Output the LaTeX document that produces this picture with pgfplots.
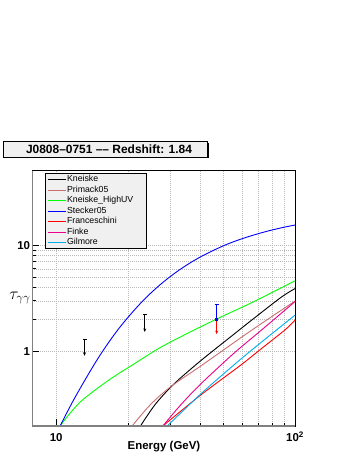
\documentclass[border=0pt]{standalone}
\usepackage{pgfplots}
\pgfplotsset{compat=1.18}
\usepackage{fontspec}
\setmainfont{Liberation Sans}
\usetikzlibrary{arrows.meta}
\definecolor{primack}{RGB}{204,110,110}
\definecolor{lgray}{RGB}{240,240,240}
\begin{document}
\begin{tikzpicture}
\path[use as bounding box] (0bp,0bp) rectangle (354bp,458bp);
% title box with shadow
\fill[black] (4.6bp,299.6bp) rectangle (208.6bp,315.4bp);
\filldraw[fill=lgray,draw=black,line width=0.6bp] (3bp,301bp) rectangle (207bp,317bp);
\node[font=\fontsize{12}{14}\selectfont\bfseries] at (109bp,309bp) {J0808–0751 –– Redshift: 1.84};
\begin{axis}[
  at={(32.3bp,32bp)}, anchor=south west, scale only axis,
  width=262.7bp, height=255.3bp,
  xmode=log, ymode=log,
  xmin=7.95, xmax=100, ymin=0.2, ymax=50,
  xtick={10,100}, xticklabels={10,10\textsuperscript{2}},
  ytick={1,10}, yticklabels={1,10},
  ticklabel style={font=\fontsize{11.5}{13}\selectfont\bfseries},
  xticklabel style={text height=8.3bp, text depth=0bp, inner sep=0bp, yshift=-7bp},
  yticklabel style={inner xsep=2bp, yshift=0bp},
  tick align=inside, tick pos=left,
  major tick length=7bp, minor tick length=3.5bp,
  tick style={black, line width=0.6bp},
  grid=both,
  major grid style={gray!55, dash pattern=on 1bp off 1bp, line width=0.45bp},
  minor grid style={gray!55, dash pattern=on 1bp off 1bp, line width=0.45bp},
  axis line style={black, line width=0.8bp},
  legend style={at={(rel axis cs:0.048,0.991)}, anchor=north west,
    fill=lgray, draw=black, line width=0.5bp,
    font=\fontsize{8.8}{10}\selectfont,
    inner xsep=2bp, inner ysep=1bp, row sep=0bp,
    nodes={inner sep=1bp, text height=6.5bp, text depth=2bp}},
  legend cell align=left,
  legend image code/.code={\draw[#1, line width=0.9bp] (0bp,0bp) -- (18bp,0bp);},
  every axis plot/.append style={line width=0.9bp},
]
% Kneiske
\addplot[black, smooth, tension=0.5] coordinates {
(22.54,0.2) (26.06,0.3214) (31.11,0.4954) (40.27,0.8197) (55.59,1.46) (65.32,1.946) (87.35,3.228) (100,3.904)};
\addlegendentry{\makebox[76bp][l]{Kneiske}}
% Primack05
\addplot[primack, smooth, tension=0.5] coordinates {
(20.80,0.2) (24.83,0.3179) (30.42,0.4743) (40.27,0.7309) (65.32,1.568) (100,2.98)};
\addlegendentry{Primack05}
% Kneiske_HighUV
\addplot[green, smooth, tension=0.5] coordinates {
(10.39,0.2) (11.45,0.2646) (13.02,0.358) (16.86,0.552) (21.48,0.780) (27.35,1.095) (36.56,1.534) (48.87,2.109) (65.32,2.854) (100,4.62)};
\addlegendentry{Kneiske\_HighUV}
% Stecker05
\addplot[blue, smooth, tension=0.55] coordinates {
(10.39,0.2) (11.67,0.3313) (13.24,0.5459) (15.31,0.933) (18.27,1.637) (22.54,2.836) (27.35,4.276) (33.19,5.953) (40.27,7.765) (50.47,9.913) (61.06,11.63) (74.30,13.27) (87.35,14.51) (100,15.44)};
\addlegendentry{Stecker05}
% Franceschini
\addplot[red, smooth, tension=0.5] coordinates {
(27.97,0.2) (40.27,0.3904) (59.3,0.7467) (71.97,1.056) (91.65,1.627) (100,1.976)};
\addlegendentry{Franceschini}
% Finke
\addplot[magenta, smooth, tension=0.5] coordinates {
(27.97,0.2) (33.19,0.3146) (40.27,0.4954) (55.59,0.968) (71.97,1.575) (100,2.948)};
\addlegendentry{Finke}
% Gilmore
\addplot[cyan, smooth, tension=0.5] coordinates {
(29.18,0.2) (40.27,0.399) (52.96,0.685) (65.32,1.017) (84.58,1.627) (100,2.20)};
\addlegendentry{Gilmore}
% upper limits / data points
\addplot[black, line width=0.7bp, arrows={Bar[width=4bp]-Stealth[length=3.5bp,width=3bp]}, forget plot] coordinates {(13.15,1.31) (13.15,0.913)};
\addplot[black, line width=0.7bp, arrows={Bar[width=4bp]-Stealth[length=3.5bp,width=3bp]}, forget plot] coordinates {(23.5,2.25) (23.5,1.53)};
\addplot[red, line width=0.7bp, arrows={-Stealth[length=3.5bp,width=3bp]}, forget plot] coordinates {(47.0,2.02) (47.0,1.46)};
\addplot[blue, line width=0.7bp, arrows={-Bar[width=4bp]}, forget plot] coordinates {(47.0,2.02) (47.0,2.81)};
\addplot[blue, only marks, mark=square*, mark size=1bp, forget plot] coordinates {(47.0,2.02)};
\end{axis}
% thicker grey bottom and left axis lines (ROOT style)
\draw[gray, line width=1.3bp] (32.3bp,32bp) -- (295bp,32bp);
\draw[gray, line width=1.3bp] (32.3bp,32bp) -- (32.3bp,287.3bp);
\node[font=\fontsize{11.5}{13}\selectfont\bfseries] at (164bp,11.5bp) {Energy (GeV)};
\node[font=\fontsize{18}{20}\selectfont] at (20bp,160bp) {$\tau_{\gamma\gamma}$};
\end{tikzpicture}
\end{document}
